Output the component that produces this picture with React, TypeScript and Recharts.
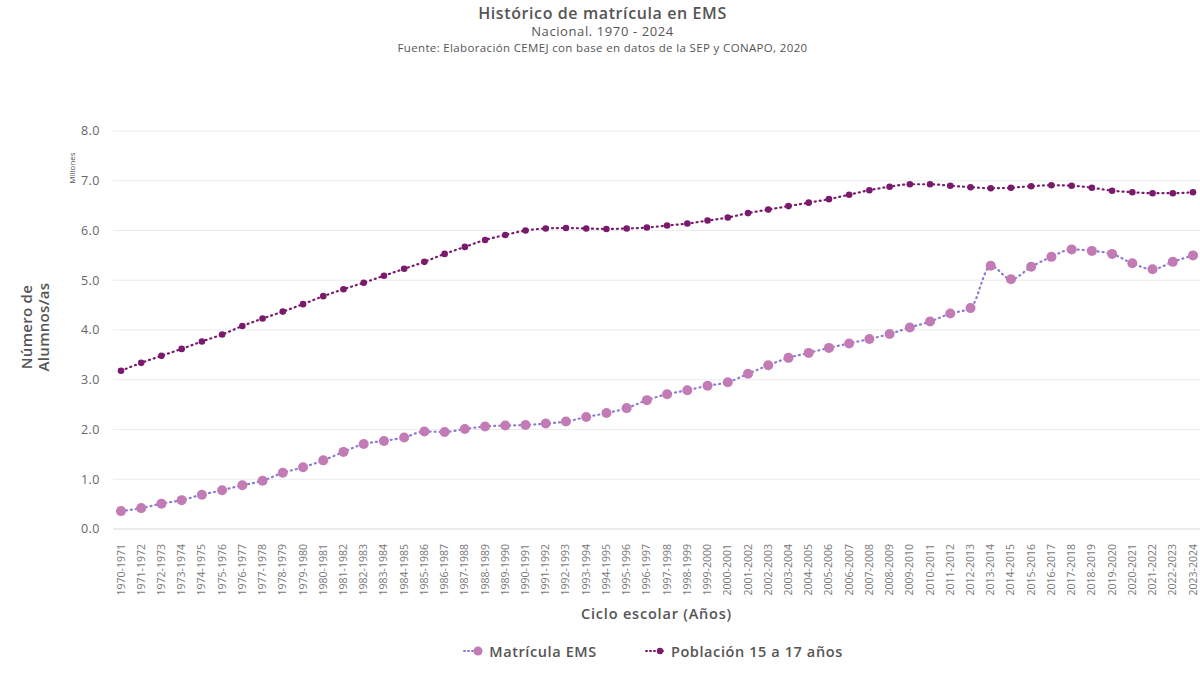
import { LineChart, Line, XAxis, YAxis, CartesianGrid, Legend } from "recharts";

const cycles = [
  "1970-1971", "1971-1972", "1972-1973", "1973-1974", "1974-1975", "1975-1976",
  "1976-1977", "1977-1978", "1978-1979", "1979-1980", "1980-1981", "1981-1982",
  "1982-1983", "1983-1984", "1984-1985", "1985-1986", "1986-1987", "1987-1988",
  "1988-1989", "1989-1990", "1990-1991", "1991-1992", "1992-1993", "1993-1994",
  "1994-1995", "1995-1996", "1996-1997", "1997-1998", "1998-1999", "1999-2000",
  "2000-2001", "2001-2002", "2002-2003", "2003-2004", "2004-2005", "2005-2006",
  "2006-2007", "2007-2008", "2008-2009", "2009-2010", "2010-2011", "2011-2012",
  "2012-2013", "2013-2014", "2014-2015", "2015-2016", "2016-2017", "2017-2018",
  "2018-2019", "2019-2020", "2020-2021", "2021-2022", "2022-2023", "2023-2024",
];

// millones de alumnos/as
const matricula = [
  0.36, 0.42, 0.51, 0.58, 0.69, 0.78, 0.88, 0.97, 1.13, 1.24,
  1.38, 1.55, 1.71, 1.77, 1.84, 1.96, 1.95, 2.01, 2.06, 2.08,
  2.09, 2.12, 2.16, 2.25, 2.33, 2.43, 2.59, 2.71, 2.79, 2.88,
  2.95, 3.12, 3.29, 3.44, 3.54, 3.64, 3.73, 3.82, 3.92, 4.05,
  4.17, 4.33, 4.44, 5.29, 5.02, 5.27, 5.47, 5.62, 5.59, 5.53,
  5.34, 5.22, 5.37, 5.5,
];

const poblacion = [
  3.18, 3.34, 3.48, 3.62, 3.77, 3.91, 4.08, 4.23, 4.37, 4.52,
  4.68, 4.82, 4.95, 5.09, 5.23, 5.37, 5.53, 5.67, 5.81, 5.91,
  6.0, 6.04, 6.05, 6.04, 6.03, 6.04, 6.06, 6.1, 6.14, 6.2,
  6.26, 6.35, 6.42, 6.49, 6.56, 6.63, 6.72, 6.81, 6.88, 6.93,
  6.93, 6.9, 6.87, 6.85, 6.86, 6.89, 6.91, 6.9, 6.86, 6.8,
  6.77, 6.75, 6.75, 6.77,
];

const yTicks = [0, 1, 2, 3, 4, 5, 6, 7, 8];

const data = cycles.map((c, i) => ({
  ciclo: c,
  matricula: matricula[i],
  poblacion: poblacion[i],
}));

const FONT = "'Open Sans', sans-serif";
const TEXT = "#555555";
const MAT_DOT = "#c27bb5";
const MAT_LINE = "#8c7bd6";
const POB = "#7a1a6c";

function CycleTick({ x, y, payload }: any) {
  return (
    <text
      x={x}
      y={y}
      transform={`rotate(-90, ${x}, ${y})`}
      dx={-7}
      dy={3.5}
      textAnchor="end"
      fontSize={10.5}
      fill="#777"
      fontFamily={FONT}
    >
      {payload.value}
    </text>
  );
}

function LegendBox() {
  const item = (dot: string, line: string, r: number, label: string) => (
    <div style={{ display: "flex", alignItems: "center", gap: 4 }}>
      <svg width={22} height={12}>
        <line x1={1} y1={6} x2={18} y2={6} stroke={line} strokeWidth={2} strokeDasharray="1 3" strokeLinecap="round" />
        <circle cx={15} cy={6} r={r} fill={dot} />
      </svg>
      <span>{label}</span>
    </div>
  );
  return (
    <div
      style={{
        display: "flex",
        justifyContent: "center",
        gap: 48,
        height: 24,
        alignItems: "center",
        fontFamily: FONT,
        fontWeight: 600,
        fontSize: 14.5,
        letterSpacing: 0.6,
        color: TEXT,
        paddingLeft: 106,
      }}
    >
      {item(MAT_DOT, MAT_LINE, 4.5, "Matrícula EMS")}
      {item(POB, POB, 3.2, "Población 15 a 17 años")}
    </div>
  );
}

export default function App() {
  return (
    <div style={{ position: "absolute", left: 0, top: 0, width: 1200, height: 692, background: "#fff", fontFamily: FONT }}>
      <div style={{ position: "absolute", top: 4, left: 0, width: 1205, textAlign: "center", color: TEXT }}>
        <div style={{ fontSize: 16, fontWeight: 600, lineHeight: "19px", letterSpacing: 0.6 }}>
          Histórico de matrícula en EMS
        </div>
        <div style={{ fontSize: 13, lineHeight: "17px", letterSpacing: 0.6 }}>Nacional. 1970 - 2024</div>
        <div style={{ fontSize: 11.5, lineHeight: "16px", letterSpacing: 0.35 }}>
          Fuente: Elaboración CEMEJ con base en datos de la SEP y CONAPO, 2020
        </div>
      </div>
      <div
        style={{
          position: "absolute",
          left: 35,
          top: 327,
          transform: "translate(-50%, -50%) rotate(-90deg)",
          textAlign: "center",
          fontSize: 15,
          fontWeight: 600,
          lineHeight: "17px",
          letterSpacing: 0.3,
          color: TEXT,
          whiteSpace: "nowrap",
        }}
      >
        Número de
        <br />
        Alumnos/as
      </div>
      <div
        style={{
          position: "absolute",
          left: 71,
          top: 168,
          transform: "translate(-50%, -50%) rotate(-90deg)",
          fontSize: 8,
          color: TEXT,
          whiteSpace: "nowrap",
        }}
      >
        Millones
      </div>
      <div style={{ position: "absolute", left: 0, top: 0 }}>
        <LineChart
          width={1200}
          height={692}
          data={data}
          margin={{ top: 131, right: 0, left: 0, bottom: 29 }}
        >
          <CartesianGrid vertical={false} stroke="#ebebeb" strokeWidth={1.2} />
          <XAxis
            dataKey="ciclo"
            interval={0}
            height={110}
            padding={{ left: 8, right: 7 }}
            tickLine={false}
            axisLine={{ stroke: "#e3e3e3" }}
            tick={<CycleTick />}
            label={{
              value: "Ciclo escolar (Años)",
              position: "insideTop",
              offset: 80,
              fill: TEXT,
              fontSize: 14.5,
              fontWeight: 600,
              fontFamily: FONT,
              letterSpacing: 0.8,
            }}
          />
          <YAxis
            domain={[0, 8]}
            ticks={yTicks}
            width={113}
            tickSize={0}
            tickMargin={13}
            axisLine={false}
            tickLine={false}
            tickFormatter={(v: number) => v.toFixed(1)}
            tick={{ fill: "#666", fontSize: 12.5, fontFamily: FONT, letterSpacing: 0.5 }}
          />
          <Legend verticalAlign="bottom" height={24} content={<LegendBox />} />
          <Line
            type="monotone"
            dataKey="poblacion"
            name="Población 15 a 17 años"
            stroke={POB}
            strokeWidth={2.2}
            strokeDasharray="1 4"
            strokeLinecap="round"
            dot={{ r: 3.3, fill: POB, stroke: POB, strokeWidth: 0, strokeDasharray: "" }}
            isAnimationActive={false}
          />
          <Line
            type="monotone"
            dataKey="matricula"
            name="Matrícula EMS"
            stroke={MAT_LINE}
            strokeWidth={2.2}
            strokeDasharray="1 4"
            strokeLinecap="round"
            dot={{ r: 5, fill: MAT_DOT, stroke: MAT_DOT, strokeWidth: 0, strokeDasharray: "" }}
            isAnimationActive={false}
          />
        </LineChart>
      </div>
    </div>
  );
}
